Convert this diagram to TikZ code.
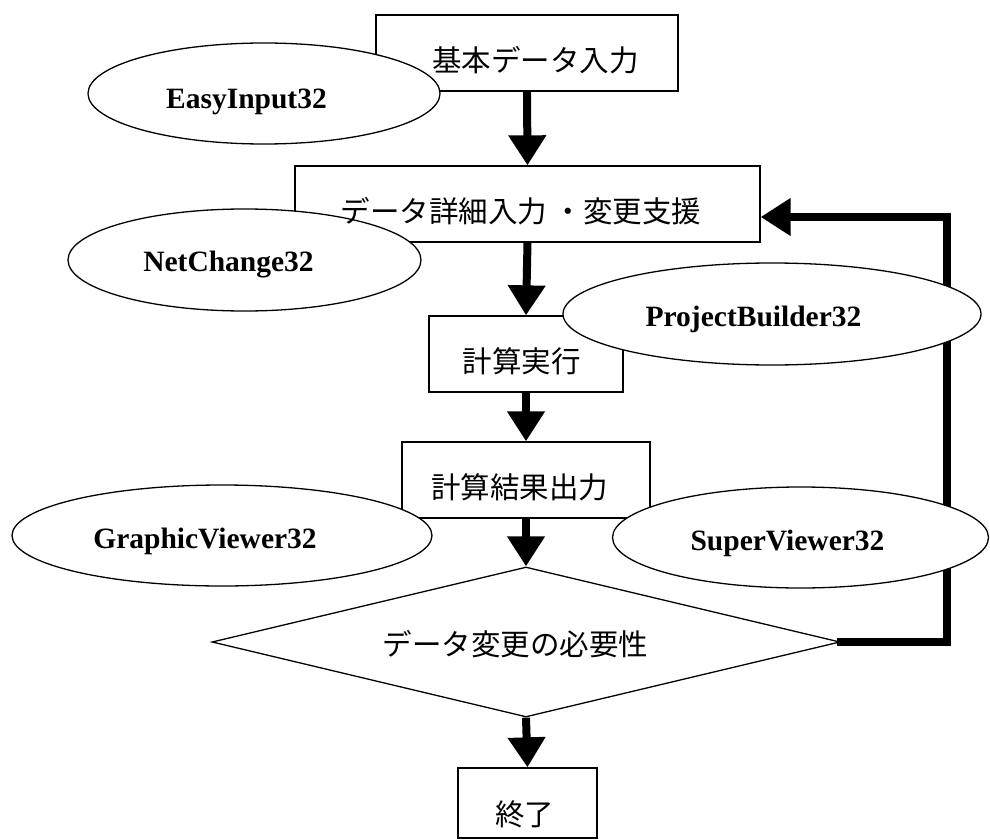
\documentclass[tikz,border=0pt]{standalone}
\usepackage{fontspec}
\setmainfont{Liberation Serif}
\newfontfamily\jp{Noto Sans CJK JP}
\usetikzlibrary{shapes.geometric,arrows.meta}
\tikzset{
  stepbox/.style={draw,line width=1.3pt,rectangle,inner sep=0pt},
  decide/.style={draw,line width=1.3pt,diamond,inner sep=0pt},
  tool/.style={draw,line width=1.3pt,ellipse,fill=white,inner sep=0pt},
  tooltext/.style={font=\fontsize{29.5}{32}\selectfont\bfseries,anchor=base,inner sep=0pt},
  jptext/.style={font=\jp\fontsize{29.5}{32}\selectfont,inner sep=0pt},
  flow/.style={line width=8pt,-{Triangle[length=30pt,width=36pt]}},
}
\begin{document}
\begin{tikzpicture}[x=1pt,y=-1pt]
\useasboundingbox (0,0) rectangle (990,840);
% boxes
\node[stepbox,minimum width=302pt,minimum height=76pt] (b1) at (527,53) {};
\node[stepbox,minimum width=465pt,minimum height=76pt] (b2) at (527.5,204) {};
\node[stepbox,minimum width=194pt,minimum height=76pt] (b3) at (526,354) {};
\node[stepbox,minimum width=248pt,minimum height=76pt] (b4) at (526,480) {};
\node[stepbox,minimum width=139pt,minimum height=70pt] (b5) at (527.5,803) {};
\node[decide,minimum width=628pt,minimum height=150pt] (d) at (526,642) {};
% arrows
\draw[flow] (b1.south) -- (b2.north);
\draw[flow] (b2.south) -- (b3.north);
\draw[flow] (b3.south) -- (b4.north);
\draw[flow] (b4.south) -- (d.north);
\draw[flow] (d.south) -- (b5.north);
\coordinate (fb) at (947,217);
\draw[flow,line cap=rect] (d.east) -| (fb) -- (b2.east |- fb);
% tool ellipses
\node[tool,minimum width=352pt,minimum height=101pt] (e1) at (264,93.5) {};
\node[tool,minimum width=353pt,minimum height=102pt] (e2) at (244.5,260) {};
\node[tool,minimum width=418pt,minimum height=102pt] (e3) at (772,314) {};
\node[tool,minimum width=420pt,minimum height=101pt] (e4) at (222,535.5) {};
\node[tool,minimum width=376pt,minimum height=101pt] (e5) at (800.5,537.5) {};
% texts
\node[jptext] (t1) at (535.5,60) {基本データ入力};
\node[jptext] (t2) at (521,211.5) {データ詳細入力 ・変更支援};
\node[jptext] (t3) at (521.5,361.5) {計算実行};
\node[jptext] (t4) at (519.5,487.5) {計算結果出力};
\node[jptext] (t5) at (515.5,644.5) {データ変更の必要性};
\node[jptext] (t6) at (524.5,814) {終了};
\node[tooltext] (l1) at (246.5,108.3) {EasyInput32};
\node[tooltext] (l2) at (228.5,271.7) {NetChange32};
\node[tooltext] (l3) at (753.5,326) {ProjectBuilder32};
\node[tooltext] (l4) at (205,548.3) {GraphicViewer32};
\node[tooltext] (l5) at (787.5,550) {SuperViewer32};
\end{tikzpicture}
\end{document}
